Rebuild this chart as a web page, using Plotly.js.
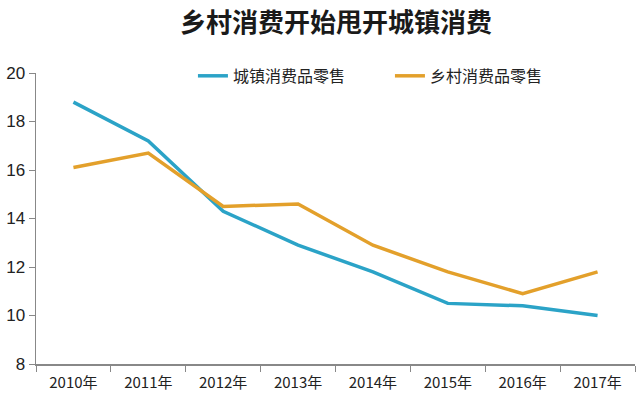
<!DOCTYPE html>
<html>
<head>
<meta charset="utf-8">
<script src="https://cdn.plot.ly/plotly-3.0.1.min.js"></script>
<style>html,body{margin:0;padding:0;background:#fff;}#chart{width:640px;height:408px;}</style>
</head>
<body>
<div id="chart"></div>
<script>
var years = ["2010年","2011年","2012年","2013年","2014年","2015年","2016年","2017年"];
var urbanName = "城镇消费品零售";
var ruralName = "乡村消费品零售";
var urban = [18.8, 17.2, 14.3, 12.9, 11.8, 10.5, 10.4, 10.0];
var rural = [16.1, 16.7, 14.5, 14.6, 12.9, 11.8, 10.9, 11.8];
var yTicks = [8, 10, 12, 14, 16, 18, 20];

var font = "Noto Sans CJK SC, Liberation Sans, sans-serif";
var traces = [
  {x: years, y: urban, name: urbanName, type: "scatter", mode: "lines",
   line: {color: "#2ba3c7", width: 3.5}},
  {x: years, y: rural, name: ruralName, type: "scatter", mode: "lines",
   line: {color: "#e3a02b", width: 3.5}}
];
var layout = {
  width: 640, height: 408,
  margin: {l: 36, r: 5, t: 73, b: 44},
  paper_bgcolor: "#fff", plot_bgcolor: "#fff",
  title: {text: "<b>乡村消费开始甩开城镇消费</b>", x: 0.525, xanchor: "center", y: 0.945, yanchor: "middle",
          font: {family: font, size: 26, color: "#1a1a1a"}},
  showlegend: true,
  legend: {orientation: "h", x: 0.262, xanchor: "left", y: 0.99, yanchor: "middle",
           font: {family: font, size: 16, color: "#222"}, bgcolor: "rgba(0,0,0,0)",
           entrywidth: 152, entrywidthmode: "pixels"},
  xaxis: {type: "category", range: [-0.5, 7.5], showgrid: false, zeroline: false,
          showline: true, linecolor: "#888", linewidth: 1.5,
          ticks: "outside", tickson: "boundaries", ticklen: 6, tickcolor: "#888",
          ticklabelstandoff: 4,
          tickfont: {family: font, size: 15, color: "#222"}},
  yaxis: {range: [8, 20], tickvals: yTicks, showgrid: false, zeroline: false,
          showline: true, linecolor: "#888", linewidth: 1.5,
          ticks: "outside", ticklen: 6, tickcolor: "#888",
          tickfont: {family: "Liberation Sans, sans-serif", size: 17, color: "#222"}}
};
Plotly.newPlot("chart", traces, layout, {displayModeBar: false, staticPlot: true});
</script>
</body>
</html>
